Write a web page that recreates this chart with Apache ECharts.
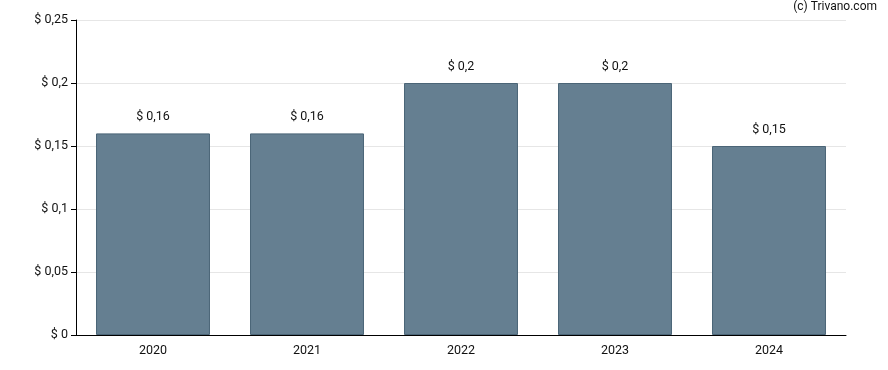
<!DOCTYPE html>
<html><head><meta charset="utf-8">
<script src="https://cdn.jsdelivr.net/npm/echarts@6/dist/echarts.min.js"></script>
<style>html,body{margin:0;padding:0;background:#fff}#c{width:888px;height:370px}</style>
</head><body><div id="c"></div>
<script>
var categories = ['2020', '2021', '2022', '2023', '2024'];
var values = [0.16, 0.16, 0.2, 0.2, 0.15];
var yTicks = [0, 0.05, 0.1, 0.15, 0.2, 0.25];

function fmt(v) { return '$ ' + String(Math.round(v * 1000) / 1000).replace('.', ','); }

var chart = echarts.init(document.getElementById('c'), null, {renderer: 'canvas'});
chart.setOption({
  animation: false,
  textStyle: {fontFamily: 'Roboto'},
  grid: {left: 76, right: 42, top: 20, bottom: 35},
  graphic: [{type: 'text', right: 11, top: 1, style: {text: '(c) Trivano.com', font: '12px Roboto', fill: '#111'}}],
  xAxis: {
    type: 'category', data: categories,
    axisLine: {lineStyle: {color: '#000', width: 1}},
    axisTick: {alignWithLabel: true, length: 5, lineStyle: {color: '#000'}},
    axisLabel: {color: '#111', fontSize: 12.5, margin: 9}
  },
  yAxis: {
    type: 'value', min: yTicks[0], max: yTicks[yTicks.length - 1], interval: 0.05,
    axisLine: {show: true, lineStyle: {color: '#000'}},
    axisTick: {show: true, length: 5, lineStyle: {color: '#000'}},
    axisLabel: {color: '#111', fontSize: 12.5, margin: 8, formatter: fmt},
    splitLine: {lineStyle: {color: '#e6e6e6'}}
  },
  series: [{
    type: 'bar', data: values, barCategoryGap: '26%',
    itemStyle: {color: '#657f91', borderColor: '#4b6577', borderWidth: 1},
    label: {show: true, position: 'top', distance: 10, color: '#111', fontSize: 12.5, formatter: function(p){return fmt(p.value);}}
  }]
});
</script></body></html>
